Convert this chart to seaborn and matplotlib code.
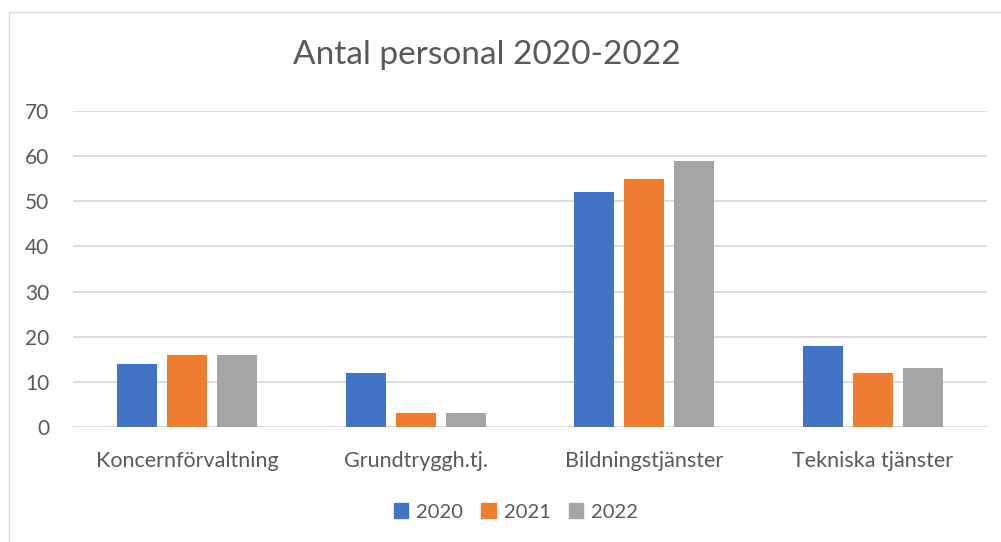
import matplotlib
matplotlib.use("Agg")
import matplotlib.pyplot as plt
from matplotlib.patches import Rectangle
import seaborn as sns
import pandas as pd

categories = ["Koncernförvaltning", "Grundtryggh.tj.", "Bildningstjänster", "Tekniska tjänster"]
years = ["2020", "2021", "2022"]
values_2020 = [14, 12, 52, 18]
values_2021 = [16, 3, 55, 12]
values_2022 = [16, 3, 59, 13]

colors = ["#4472C4", "#ED7D31", "#A5A5A5"]
text_color = "#595959"

df = pd.DataFrame({
    "Enhet": categories * 3,
    "År": [y for y in years for _ in categories],
    "Antal": values_2020 + values_2021 + values_2022,
})

sns.set_style("white")
plt.rcParams["font.family"] = ["Lato", "DejaVu Sans"]

W, H = 1001, 542
fig = plt.figure(figsize=(W / 100, H / 100), dpi=100)
ax = fig.add_axes([73 / W, 1 - 427 / H, (987 - 73) / W, (427 - 111) / H])

sns.barplot(data=df, x="Enhet", y="Antal", hue="År", palette=colors,
            width=0.656, gap=0.2, ax=ax, legend=False, saturation=1, linewidth=0)

ax.set_ylim(0, 70)
ax.set_yticks(range(0, 71, 10))
ax.set_xlim(-0.5, 3.5)
ax.grid(axis="y", color="#d9d9d9", linewidth=1.3)
ax.set_axisbelow(True)
for s in ax.spines.values():
    s.set_visible(False)
ax.set_xlabel("")
ax.set_ylabel("")
ax.tick_params(axis="y", length=0, pad=17, labelsize=15, labelcolor=text_color)
ax.tick_params(axis="x", length=0, pad=17, labelsize=15.5, labelcolor=text_color)

fig.text(487 / W, 1 - 55 / H, "Antal personal 2020-2022", ha="center", va="center",
         fontsize=24, color=text_color)

# legend
handles = [Rectangle((0, 0), 1, 1, color=c) for c in colors]
fig.legend(handles, years, loc="center", bbox_to_anchor=(516 / W, 1 - 512 / H),
           ncol=3, frameon=False, fontsize=14.5, labelcolor=text_color,
           handlelength=0.7, handleheight=0.7, handletextpad=0.4, columnspacing=0.9)

# chart border
fig.patches.append(Rectangle((9 / W, -0.1), 1.2, 1 - 12 / H + 0.1, transform=fig.transFigure,
                             fill=False, edgecolor="#d9d9d9", linewidth=1))

fig.savefig("out.png", dpi=100)
